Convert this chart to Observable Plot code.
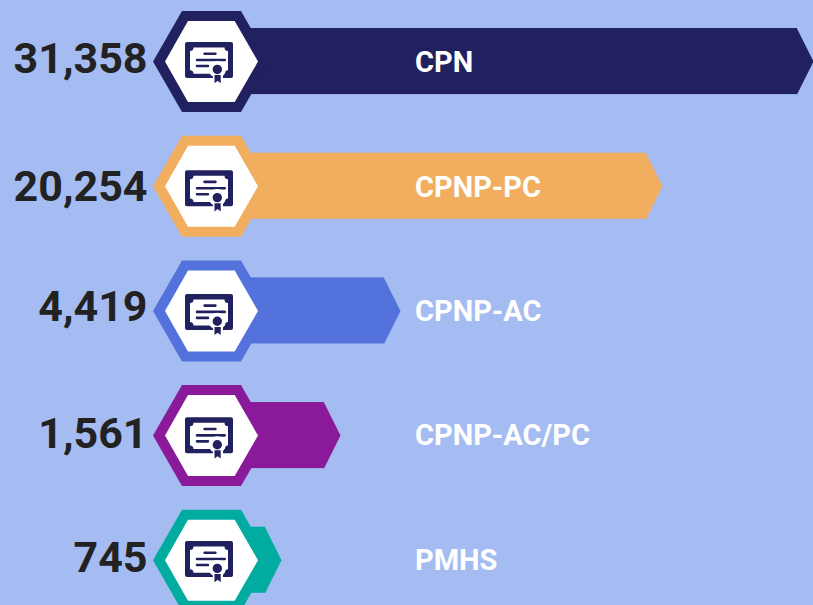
<!DOCTYPE html>
<html>
<head>
<meta charset="utf-8">
<script src="https://cdn.jsdelivr.net/npm/d3@7"></script>
<script src="https://cdn.jsdelivr.net/npm/@observablehq/plot@0.6"></script>
<style>
html,body{margin:0;padding:0;background:#a4bcf2;overflow:hidden}
svg{display:block}
</style>
</head>
<body>
<div id="chart"></div>
<script>
const names = ["CPN", "CPNP-PC", "CPNP-AC", "CPNP-AC/PC", "PMHS"];
const counts = [31358, 20254, 4419, 1561, 745];
const colors = ["#22215f", "#f1ae5e", "#5372dc", "#8a1a9a", "#00ab9f"];
const navy = "#22215f";

const rows = names.map((name, i) => ({name, count: counts[i]}));

// The source graphic is not drawn to a linear scale: piecewise scale through its own stops.
const xDomain = [0, 745, 1561, 4419, 20254, 31358];
const xRange = [210.5, 281, 340, 400, 662, 813];

function polygon(points) {
  return {draw(c) {
    points.forEach(([x, y], i) => i ? c.lineTo(x, y) : c.moveTo(x, y));
    c.closePath();
  }};
}
const hexOuter = polygon([[-58,0],[-29,-50.5],[30,-50.5],[59,0],[30,50.5],[-29,50.5]]);
const hexInner = polygon([[-46,0],[-23,-40.5],[23.7,-40.5],[47,0],[23.7,40.5],[-23,40.5]]);
const tip = polygon([[-16.5,-33],[0,0],[-16.5,33]]);

function rr(c, x0, y0, x1, y1, r) {
  c.moveTo(x0 + r, y0);
  c.lineTo(x1 - r, y0); c.arc(x1 - r, y0 + r, r, -Math.PI/2, 0);
  c.lineTo(x1, y1 - r); c.arc(x1 - r, y1 - r, r, 0, Math.PI/2);
  c.lineTo(x0 + r, y1); c.arc(x0 + r, y1 - r, r, Math.PI/2, Math.PI);
  c.lineTo(x0, y0 + r); c.arc(x0 + r, y0 + r, r, Math.PI, 1.5*Math.PI);
  c.closePath();
}
const iconBack = {draw(c) { rr(c, -26, -19, 22, 17, 2); }};
const iconPaper = {draw(c) {
  c.moveTo(-17.5, -13.5); c.lineTo(13.5, -13.5);
  c.arc(17, -13.5, 3.5, Math.PI, Math.PI/2, true);
  c.lineTo(17, 9);
  c.arc(17, 12.7, 3.5, -Math.PI/2, Math.PI, true);
  c.lineTo(-17.5, 12.7);
  c.arc(-21, 12.7, 3.5, 0, -Math.PI/2, true);
  c.lineTo(-21, -10);
  c.arc(-21, -13.5, 3.5, Math.PI/2, 0, true);
  c.closePath();
}};
const iconLines = {draw(c) {
  rr(c, -7.7, -8.6, 5.7, -6, 1.3);
  rr(c, -15.3, -2.3, 15, 0.3, 1.3);
  rr(c, -15.3, 3.7, -1.7, 6.3, 1.3);
}};
const sealRing = {draw(c) {
  c.moveTo(14.8, 8.4); c.arc(6.3, 8.4, 8.5, 0, 2*Math.PI); c.closePath();
  c.moveTo(2, 14); c.lineTo(12, 14); c.lineTo(12, 23.5); c.lineTo(2, 23.5); c.closePath();
}};
const seal = {draw(c) {
  c.moveTo(11, 8.4); c.arc(6.3, 8.4, 4.7, 0, 2*Math.PI); c.closePath();
  c.moveTo(3.5, 14); c.lineTo(9.7, 14); c.lineTo(9.7, 22.2); c.lineTo(6.6, 19.8); c.lineTo(3.5, 22.2); c.closePath();
}};

const center = {x: () => 0, y: "name", r: 10};
const font = 'Roboto, sans-serif';

// The original artwork places the icon, the number and the label slightly differently on each row.
const iconNudge = [-0.5, 3, 2, 0.75, -0.25];
const numberNudge = [-2, 1.5, -3.2, -1, -2];
const labelNudge = [1, 1, 1, 0, 0];

const chart = Plot.plot({
  width: 813,
  height: 605,
  margin: 0,
  style: {background: "#a4bcf2", fontFamily: font},
  x: {type: "linear", domain: xDomain, range: xRange, axis: null},
  y: {type: "band", domain: names, range: [28, 592.8], paddingInner: 0.47, paddingOuter: 0, round: false, axis: null},
  color: {type: "ordinal", domain: names, range: colors},
  marks: [
    Plot.barX(rows, {x1: () => 0, x2: "count", y: "name", fill: "name", insetRight: 16}),
    Plot.dot(rows, {x: "count", y: "name", r: 10, symbol: tip, fill: "name"}),
    Plot.dot(rows, {...center, symbol: hexOuter, fill: "name"}),
    Plot.dot(rows, {...center, symbol: hexInner, fill: "white"}),
    rows.map((row, i) => [
      Plot.dot([row], {...center, dy: iconNudge[i], symbol: iconBack, fill: navy}),
      Plot.dot([row], {...center, dy: iconNudge[i], symbol: iconPaper, fill: "white"}),
      Plot.dot([row], {...center, dy: iconNudge[i], symbol: iconLines, fill: navy}),
      Plot.dot([row], {...center, dy: iconNudge[i], symbol: sealRing, fill: "white"}),
      Plot.dot([row], {...center, dy: iconNudge[i], symbol: seal, fill: navy}),
      Plot.text([row], {
        y: "name", text: d => d3.format(",")(d.count),
        frameAnchor: "left", dx: 147, dy: numberNudge[i], textAnchor: "end",
        fontSize: 43, fontWeight: 700, fill: "#222222"
      }),
      Plot.text([row], {
        y: "name", text: "name",
        frameAnchor: "left", dx: 414.5, dy: labelNudge[i], textAnchor: "start",
        fontSize: 29, fontWeight: 700, fill: "white"
      })
    ])
  ]
});
document.getElementById("chart").append(chart);
</script>
</body>
</html>
